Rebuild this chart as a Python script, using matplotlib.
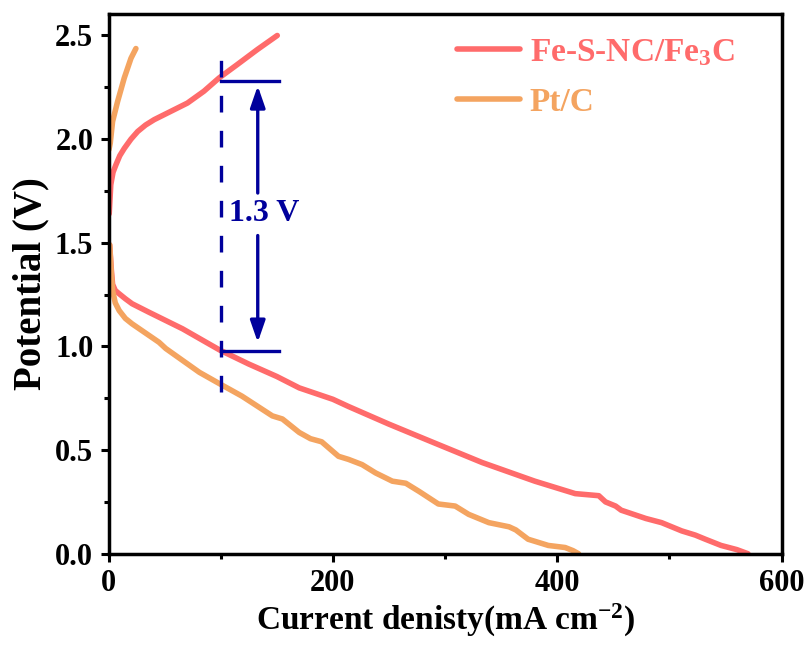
import matplotlib.pyplot as plt
from matplotlib.ticker import MultipleLocator

plt.rcParams['font.family'] = ['Liberation Serif', 'DejaVu Serif']
plt.rcParams['font.weight'] = 'bold'
plt.rcParams['mathtext.fontset'] = 'custom'
plt.rcParams['mathtext.rm'] = 'Liberation Serif:bold'
plt.rcParams['mathtext.default'] = 'rm'

# Fe-S-NC/Fe3C discharge polarization
fe_dis_j = [1.0, 2.5, 3.6, 6, 9.5, 15, 21, 36, 51, 66, 87, 99, 125, 150, 170, 200, 214, 250,
            288, 333, 380, 416, 437, 443, 452, 457, 479, 493, 511, 523, 532, 546, 560, 570]
fe_dis_v = [1.49, 1.37, 1.30, 1.27, 1.254, 1.23, 1.206, 1.165, 1.125, 1.085, 1.02, 0.983,
            0.915, 0.855, 0.80, 0.745, 0.71, 0.625, 0.54, 0.44, 0.35, 0.29, 0.28, 0.25, 0.23,
            0.21, 0.17, 0.15, 0.11, 0.09, 0.07, 0.04, 0.02, 0.0]
# Fe-S-NC/Fe3C charge polarization
fe_chg_j = [0.6, 2, 4, 6.5, 10, 14, 20, 26, 33, 40.7, 55.5, 70.3, 85, 98.5, 114.8, 132.6, 150.4]
fe_chg_v = [1.64, 1.78, 1.84, 1.875, 1.92, 1.955, 2.0, 2.037, 2.068, 2.094, 2.134, 2.174,
            2.231, 2.295, 2.36, 2.432, 2.50]

# Pt/C discharge polarization
pt_dis_j = [1.0, 2.5, 3.6, 6, 9.5, 15, 21, 45, 51, 81, 99, 119, 146, 155, 170, 180, 190, 205,
            214, 226, 238, 253, 265, 277, 294, 309, 321, 339, 357, 363, 374, 392, 407, 414, 419]
pt_dis_v = [1.49, 1.35, 1.27, 1.21, 1.173, 1.135, 1.109, 1.02, 0.99, 0.875, 0.82, 0.76,
            0.665, 0.65, 0.585, 0.555, 0.54, 0.47, 0.455, 0.43, 0.39, 0.35, 0.34, 0.30,
            0.24, 0.23, 0.19, 0.15, 0.13, 0.115, 0.07, 0.04, 0.03, 0.015, 0.0]
# Pt/C charge polarization
pt_chg_j = [0.4, 1.5, 3.6, 8, 14, 20, 24.4]
pt_chg_v = [1.95, 1.98, 2.085, 2.18, 2.295, 2.39, 2.437]

red = '#FF6B6B'
orange = '#F4A460'
blue = '#00009C'

fig, ax = plt.subplots(figsize=(8.1, 6.53), dpi=100)
fig.subplots_adjust(left=0.134, right=0.965, top=0.979, bottom=0.152)

ax.plot(fe_dis_j, fe_dis_v, color=red, lw=4, label='Fe-S-NC/Fe$_3$C', solid_capstyle='round')
ax.plot(fe_chg_j, fe_chg_v, color=red, lw=4, solid_capstyle='round')
ax.plot(pt_dis_j, pt_dis_v, color=orange, lw=4, label='Pt/C', solid_capstyle='round')
ax.plot(pt_chg_j, pt_chg_v, color=orange, lw=4, solid_capstyle='round')

# voltage gap annotation
ax.plot([100, 100], [0.78, 2.42], color=blue, lw=2.4, ls=(0, (5, 5.5)))
ax.plot([100, 152], [2.28, 2.28], color=blue, lw=2.4)
ax.plot([100, 152], [0.98, 0.98], color=blue, lw=2.4)
ax.annotate('', xy=(133, 2.257), xytext=(133, 1.74),
            arrowprops=dict(arrowstyle='-|>,head_length=1.3,head_width=0.45', color=blue, lw=2.4,
                            shrinkA=0, shrinkB=0))
ax.annotate('', xy=(133, 1.02), xytext=(133, 1.535),
            arrowprops=dict(arrowstyle='-|>,head_length=1.3,head_width=0.45', color=blue, lw=2.4,
                            shrinkA=0, shrinkB=0))
ax.text(139, 1.64, '1.3 V', color=blue, fontsize=23, fontweight='bold', ha='center', va='center')

ax.set_xlim(0, 600)
ax.set_ylim(0, 2.605)
ax.xaxis.set_major_locator(MultipleLocator(200))
ax.xaxis.set_minor_locator(MultipleLocator(100))
ax.yaxis.set_major_locator(MultipleLocator(0.5))
ax.yaxis.set_minor_locator(MultipleLocator(0.25))
ax.tick_params(which='major', direction='out', length=6, width=2.2, labelsize=22, pad=5)
ax.tick_params(which='minor', direction='out', length=3.5, width=2.2)
for s in ax.spines.values():
    s.set_linewidth(2.5)

ax.set_xlabel('Current denisty(mA cm$^{-2}$)', fontsize=24, fontweight='bold', labelpad=3)
ax.set_ylabel('Potential (V)', fontsize=28, fontweight='bold', labelpad=4)

leg = ax.legend(loc='upper left', bbox_to_anchor=(0.517, 0.957), frameon=False, fontsize=24,
                handlelength=1.9, borderpad=0, borderaxespad=0, labelspacing=0.57,
                handletextpad=0.3)
for txt, line in zip(leg.get_texts(), leg.get_lines()):
    txt.set_color(line.get_color())

fig.savefig('out.png')
